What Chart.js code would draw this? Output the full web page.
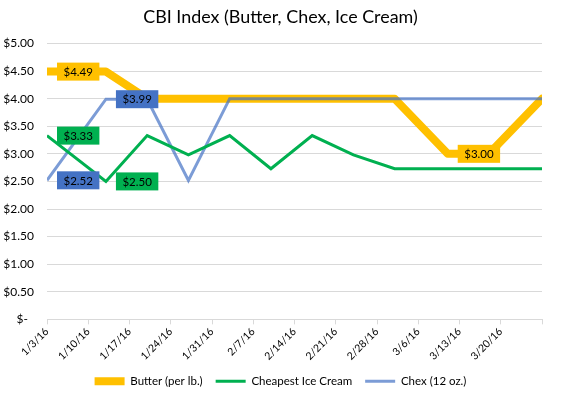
<!DOCTYPE html>
<html>
<head>
<meta charset="utf-8">
<script src="https://cdn.jsdelivr.net/npm/chart.js@4/dist/chart.umd.min.js"></script>
<style>
  html, body { margin: 0; padding: 0; background: #fff; }
  #wrap { width: 561px; height: 397px; }
</style>
</head>
<body>
<div id="wrap"><canvas id="c" width="561" height="397"></canvas></div>
<script>
// ---- data ----
const startDate = '2016-01-03';
const endDate = '2016-03-27';
const dates = ['2016-01-03','2016-01-13','2016-01-20','2016-01-27','2016-02-03','2016-02-10',
               '2016-02-17','2016-02-24','2016-03-02','2016-03-11','2016-03-18','2016-03-27'];
const seriesNames = ['Butter (per lb.)', 'Cheapest Ice Cream', 'Chex (12 oz.)'];
const butter   = [4.49, 4.49, 4.00, 4.00, 4.00, 4.00, 4.00, 4.00, 4.00, 3.00, 3.00, 4.00];
const iceCream = [3.33, 2.50, 3.33, 2.98, 3.33, 2.73, 3.33, 2.98, 2.73, 2.73, 2.73, 2.73];
const chex     = [2.52, 3.99, 3.99, 2.52, 4.00, 4.00, 4.00, 4.00, 4.00, 4.00, 4.00, 4.00];
// indexes of points carrying a value label
const butterLabels = [0, 9];
const iceCreamLabels = [0, 1];
const chexLabels = [0, 1];
const yTicks = [0, 0.5, 1, 1.5, 2, 2.5, 3, 3.5, 4, 4.5, 5];

// ---- helpers ----
const DAY = 86400000;
function toDay(s) { const [y, m, d] = s.split('-').map(Number); return Date.UTC(y, m - 1, d); }
const t0 = toDay(startDate);
const dayNum = s => (toDay(s) - t0) / DAY;
const maxDay = dayNum(endDate);
function fmtDay(v) {
  const d = new Date(t0 + v * DAY);
  return (d.getUTCMonth() + 1) + '/' + d.getUTCDate() + '/' + String(d.getUTCFullYear()).slice(2);
}
const pts = arr => arr.map((v, i) => ({ x: dayNum(dates[i]), y: v }));

const FONT = 'Lato, "Open Sans", sans-serif';

const valueLabels = {
  id: 'valueLabels',
  afterDatasetsDraw(chart) {
    const ctx = chart.ctx;
    ctx.save();
    ctx.font = '11.5px ' + FONT;
    chart.data.datasets.forEach((ds, di) => {
      const meta = chart.getDatasetMeta(di);
      (ds.labelIdx || []).forEach(i => {
        const el = meta.data[i];
        const txt = '$' + ds.data[i].y.toFixed(2);
        const w = ctx.measureText(txt).width + 13;
        const h = 18;
        const x = el.x + 10, y = el.y - h / 2;
        ctx.fillStyle = ds.labelBg;
        ctx.fillRect(x, y, w, h);
        ctx.fillStyle = '#000';
        ctx.textAlign = 'center';
        ctx.textBaseline = 'middle';
        ctx.fillText(txt, x + w / 2, y + h / 2 + 0.5);
      });
    });
    ctx.restore();
  }
};

new Chart(document.getElementById('c'), {
  type: 'line',
  data: {
    datasets: [
      { label: seriesNames[0], data: pts(butter), borderColor: '#FFC000', backgroundColor: '#FFC000',
        borderWidth: 8, borderJoinStyle: 'round', borderCapStyle: 'round', pointRadius: 0, tension: 0,
        order: 3, labelIdx: butterLabels, labelBg: '#FFC000' },
      { label: seriesNames[1], data: pts(iceCream), borderColor: '#00B050', backgroundColor: '#00B050',
        borderWidth: 3, pointRadius: 0, tension: 0, order: 1, labelIdx: iceCreamLabels, labelBg: '#00B050' },
      { label: seriesNames[2], data: pts(chex), borderColor: 'rgba(68,114,196,0.7)', backgroundColor: 'rgba(68,114,196,0.7)',
        borderWidth: 3, pointRadius: 0, tension: 0, order: 2, labelIdx: chexLabels, labelBg: '#4472C4' }
    ]
  },
  options: {
    responsive: false,
    animation: false,
    layout: { padding: { left: 0, right: 0, top: 4, bottom: 0 } },
    plugins: {
      title: { display: true, text: 'CBI Index (Butter, Chex, Ice Cream)', color: '#000',
        font: { family: FONT, size: 17.9, weight: 'normal' }, padding: { top: 2, bottom: 16 } },
      legend: { position: 'bottom',
        labels: { color: '#000', font: { family: FONT, size: 11.5 }, usePointStyle: true, pointStyle: 'line',
          boxWidth: 30, pointStyleWidth: 30, padding: 13,
          sort: (a, b) => a.datasetIndex - b.datasetIndex } },
      tooltip: { enabled: false }
    },
    scales: {
      x: {
        type: 'linear', min: 0, max: maxDay,
        afterBuildTicks: s => { const t = []; for (let v = 0; v <= maxDay; v += 7) t.push({ value: v }); s.ticks = t; },
        afterFit: s => { s.paddingLeft = 0; s.paddingRight = 19; s.height -= 1; },
        ticks: { color: '#000', font: { family: FONT, size: 10.5 }, minRotation: 45, maxRotation: 45, padding: 1,
          callback: v => (v >= maxDay ? '' : fmtDay(v)) },
        grid: { display: true, drawOnChartArea: false, drawTicks: true, tickLength: 5, color: '#d9d9d9' },
        border: { display: true, color: '#d9d9d9' }
      },
      y: {
        min: 0, max: 5,
        afterBuildTicks: s => { s.ticks = yTicks.map(v => ({ value: v })); },
        afterFit: s => { s.width = 47; },
        ticks: { color: '#000', font: { family: FONT, size: 12 }, padding: 13,
          callback: v => (v === 0 ? '$-  ' : '$' + v.toFixed(2)) },
        grid: { color: '#d9d9d9', drawTicks: false },
        border: { display: false }
      }
    }
  },
  plugins: [valueLabels]
});
</script>
</body>
</html>
